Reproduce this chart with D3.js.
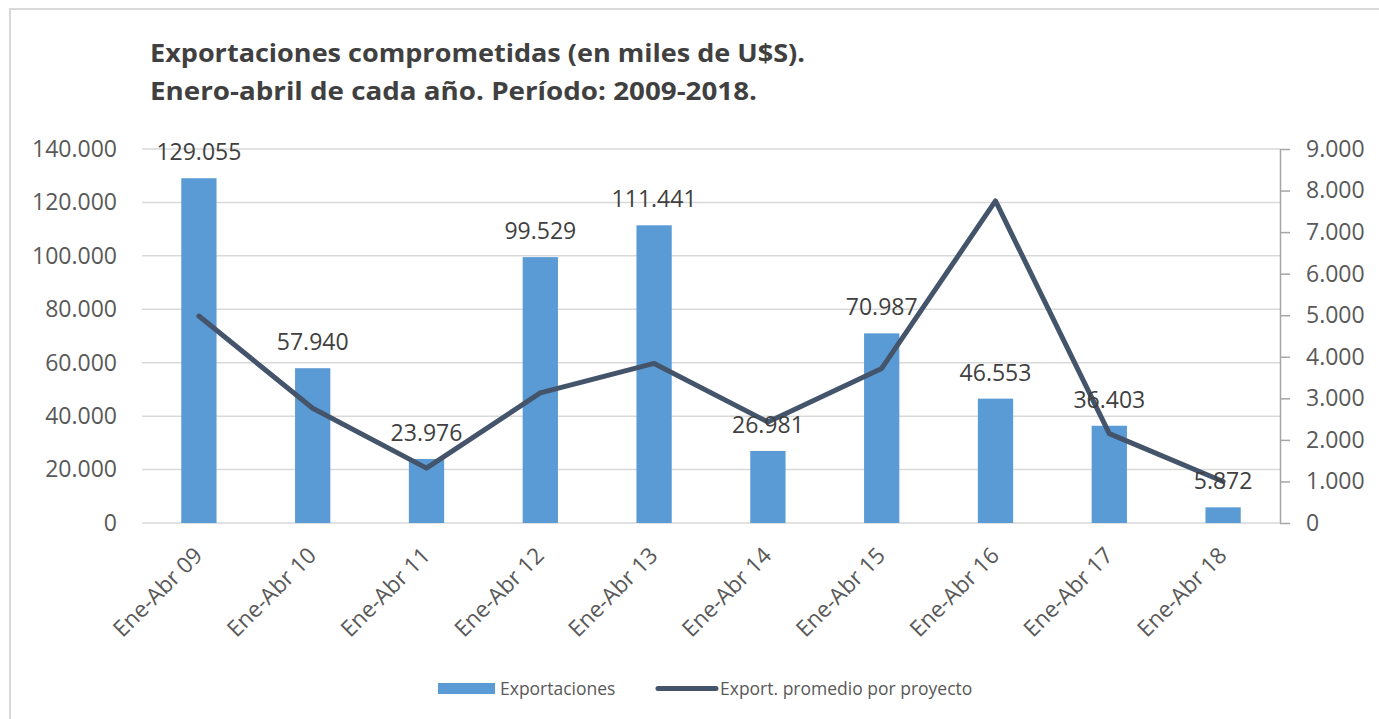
<!DOCTYPE html>
<html>
<head>
<meta charset="utf-8">
<script src="https://cdn.jsdelivr.net/npm/d3@7"></script>
<style>
  html, body { margin: 0; padding: 0; background: #fff; }
  svg { display: block; }
  text { font-family: "Open Sans", "Noto Sans", sans-serif; }
</style>
</head>
<body>
<svg id="chart" width="1379" height="719"></svg>
<script>
const titleLines = ["Exportaciones comprometidas (en miles de U$S).", "Enero-abril de cada año. Período: 2009-2018."];
const categories = ["Ene-Abr 09","Ene-Abr 10","Ene-Abr 11","Ene-Abr 12","Ene-Abr 13","Ene-Abr 14","Ene-Abr 15","Ene-Abr 16","Ene-Abr 17","Ene-Abr 18"];
const exportaciones = [129055, 57940, 23976, 99529, 111441, 26981, 70987, 46553, 36403, 5872];
const promedio = [4980, 2760, 1320, 3130, 3840, 2430, 3720, 7750, 2150, 1000];
const leftTicks = [0, 20000, 40000, 60000, 80000, 100000, 120000, 140000];
const rightTicks = [0, 1000, 2000, 3000, 4000, 5000, 6000, 7000, 8000, 9000];
const seriesNames = ["Exportaciones", "Export. promedio por proyecto"];

const barColor = "#5B9BD5", lineColor = "#44546A", gridColor = "#D9D9D9";
const fmt = d3.formatLocale({decimal: ",", thousands: ".", grouping: [3], currency: ["", ""]}).format(",.0f");

const svg = d3.select("#chart");
const plot = {left: 142, right: 1280, top: 149, bottom: 523};

// chart border
svg.append("rect").attr("x", 10).attr("y", 9).attr("width", 1400).attr("height", 800)
  .attr("fill", "none").attr("stroke", "#D9D9D9").attr("stroke-width", 2);

// title
svg.append("g").selectAll("text").data(titleLines).join("text")
  .attr("x", 150).attr("y", (d, i) => 62 + i * 38)
  .attr("font-size", 25).attr("font-weight", "bold").attr("fill", "#404040")
  .attr("textLength", (d, i) => i === 0 ? 655 : 607).attr("lengthAdjust", "spacingAndGlyphs")
  .text(d => d);

const x = d3.scaleBand().domain(categories).range([plot.left, plot.right]).paddingInner(0.69).paddingOuter(0.345);
const yL = d3.scaleLinear().domain([0, 140000]).range([plot.bottom, plot.top]);
const yR = d3.scaleLinear().domain([0, 9000]).range([plot.bottom, plot.top]);
const cx = d => x(d) + x.bandwidth() / 2;

// gridlines
svg.append("g").selectAll("line").data(leftTicks).join("line")
  .attr("x1", plot.left).attr("x2", plot.right)
  .attr("y1", d => yL(d)).attr("y2", d => yL(d))
  .attr("stroke", gridColor).attr("stroke-width", 1.5);

// left axis labels
const gL = svg.append("g").attr("transform", `translate(${plot.left},0)`)
  .call(d3.axisLeft(yL).tickValues(leftTicks).tickFormat(fmt).tickSize(0).tickPadding(25));
gL.select(".domain").remove();
gL.selectAll("text").attr("font-size", 23).attr("fill", "#595959").attr("font-family", "Open Sans");

// right axis
const gR = svg.append("g").attr("transform", `translate(${plot.right},0)`)
  .call(d3.axisRight(yR).tickValues(rightTicks).tickFormat(fmt).tickSize(10).tickSizeOuter(0).tickPadding(16));
gR.select(".domain").attr("stroke", "#A6A6A6").attr("stroke-width", 1.5);
gR.selectAll(".tick line").attr("stroke", "#A6A6A6").attr("stroke-width", 1.5);
gR.selectAll("text").attr("font-size", 23).attr("fill", "#595959").attr("font-family", "Open Sans");

// bars
svg.append("g").selectAll("rect").data(exportaciones).join("rect")
  .attr("x", (d, i) => x(categories[i])).attr("width", x.bandwidth())
  .attr("y", d => yL(d)).attr("height", d => yL(0) - yL(d))
  .attr("fill", barColor);

// line
const line = d3.line().x((d, i) => cx(categories[i])).y(d => yR(d));
svg.append("path").datum(promedio).attr("d", line)
  .attr("fill", "none").attr("stroke", lineColor).attr("stroke-width", 5)
  .attr("stroke-linejoin", "round").attr("stroke-linecap", "round");

// data labels
svg.append("g").selectAll("text").data(exportaciones).join("text")
  .attr("x", (d, i) => cx(categories[i])).attr("y", d => yL(d) - 18)
  .attr("text-anchor", "middle").attr("font-size", 23).attr("fill", "#404040")
  .text(d => fmt(d));

// x axis labels
svg.append("g").selectAll("text").data(categories).join("text")
  .attr("transform", d => `translate(${cx(d) + 5},557) rotate(-45)`)
  .attr("text-anchor", "end").attr("font-size", 22.5).attr("fill", "#595959")
  .text(d => d);

// legend
const leg = svg.append("g");
leg.append("rect").attr("x", 438).attr("y", 683).attr("width", 57).attr("height", 11).attr("fill", barColor);
leg.append("text").attr("x", 500).attr("y", 694.5).attr("font-size", 17.5).attr("fill", "#595959").text(seriesNames[0]);
leg.append("line").attr("x1", 658).attr("x2", 716).attr("y1", 688.5).attr("y2", 688.5)
  .attr("stroke", lineColor).attr("stroke-width", 5).attr("stroke-linecap", "round");
leg.append("text").attr("x", 720).attr("y", 694.5).attr("font-size", 17.5).attr("fill", "#595959").text(seriesNames[1]);
</script>
</body>
</html>
